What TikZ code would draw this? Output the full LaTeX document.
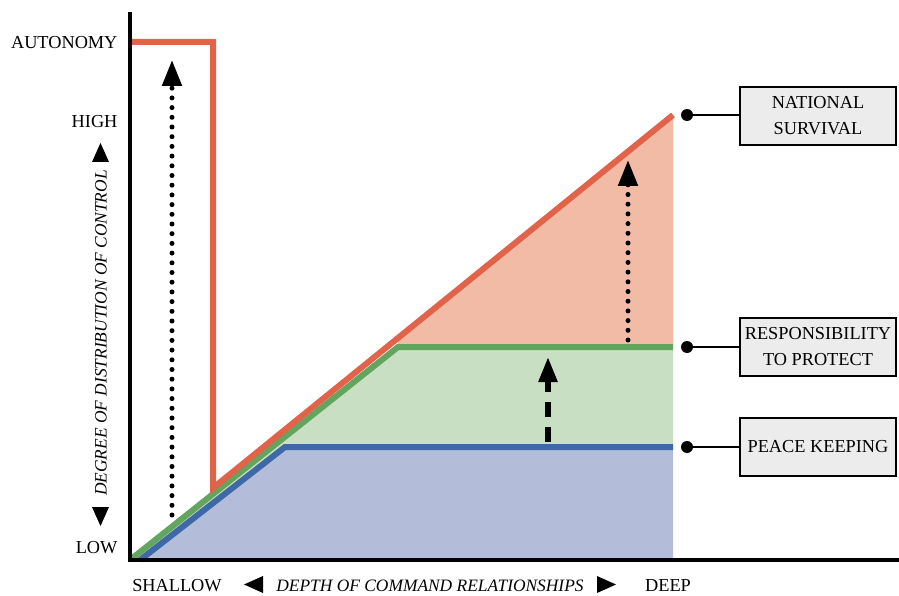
\documentclass[tikz,border=0pt]{standalone}
\usepackage{fontspec}
\setmainfont{Liberation Serif}
\usetikzlibrary{arrows.meta}
\definecolor{redline}{HTML}{E0634A}
\definecolor{redfill}{HTML}{F2BBA5}
\definecolor{greenline}{HTML}{62A55E}
\definecolor{greenfill}{HTML}{C9DFC4}
\definecolor{blueline}{HTML}{3F68A6}
\definecolor{bluefill}{HTML}{B3BDDA}
\definecolor{boxgray}{HTML}{ECECEC}
\begin{document}
\begin{tikzpicture}[x=1pt,y=-1pt,font=\fontsize{18.3}{26}\selectfont,
    levelbox/.style={draw,line width=2.8pt,fill=boxgray,minimum width=156pt,minimum height=58pt,align=center,inner sep=1pt},
    dotarrow/.style={line width=5pt,line cap=round,dash pattern=on 0pt off 9.7pt,-{Triangle[length=26pt,width=19pt,line cap=butt]}},
    dasharrow/.style={line width=5.5pt,dash pattern=on 15pt off 10pt,-{Triangle[length=25pt,width=18pt]}},
    slanted/.style={font=\fontsize{17.4}{20}\selectfont\itshape},
    bottom/.style={anchor=base,inner sep=0pt},
    level/.style={line width=6pt,line join=miter}]
    \useasboundingbox (0,0) rectangle (899,596);
    % areas
    \fill[bluefill] (140,560)--(285,447)--(673,447)--(673,560)--cycle;
    \fill[greenfill] (130,560)--(398,347)--(673,347)--(673,447)--(285,447)--(140,560)--cycle;
    \fill[redfill] (398,340)--(673,115)--(673,347)--(398,347)--cycle;
    % levels
    \draw[level,blueline] (140,560)--(285,447)--(673,447);
    \draw[level,greenline] (130,560)--(398,347)--(673,347);
    \draw[level,redline] (130,42)--(213,42)--(213,488)--(673,115);
    % shifts
    \draw[dotarrow] (172,515)--(172,60);
    \draw[dotarrow] (628,340)--(628,160);
    \draw[dasharrow] (548,442)--(548,357);
    % axes
    \draw[line width=4pt] (130,12)--(130,560)--(899,560);
    % level names
    \node[levelbox] (survival) at (818,116) {NATIONAL\\SURVIVAL};
    \node[levelbox] (protect) at (818,347) {RESPONSIBILITY\\TO PROTECT};
    \node[levelbox] (peace) at (818,447) {PEACE KEEPING};
    \foreach \n/\y in {survival/115,protect/347,peace/447}{
        \coordinate (\n-dot) at (687,\y);
        \fill (\n-dot) circle(6);
        \draw[line width=2.8pt] (\n-dot)--(\n.west|-\n-dot);
    }
    % axis labels
    \node[anchor=east] (autonomy) at (121,43) {AUTONOMY};
    \node[anchor=east] (high) at (121,122) {HIGH};
    \node[anchor=east] (low) at (121,548) {LOW};
    \node[rotate=90,slanted] (control) at (101,333) {DEGREE OF DISTRIBUTION OF CONTROL};
    \fill (92,162)--(109,162)--(100.5,143)--cycle;
    \fill (92,507)--(109,507)--(100.5,526)--cycle;
    \node[bottom] (shallow) at (177,591) {SHALLOW};
    \node[bottom,slanted] (depth) at (430,591) {DEPTH OF COMMAND RELATIONSHIPS};
    \node[bottom] (deep) at (668,591) {DEEP};
    \fill (244,584.5)--(263,576)--(263,593)--cycle;
    \fill (616,584.5)--(597,576)--(597,593)--cycle;
\end{tikzpicture}
\end{document}
